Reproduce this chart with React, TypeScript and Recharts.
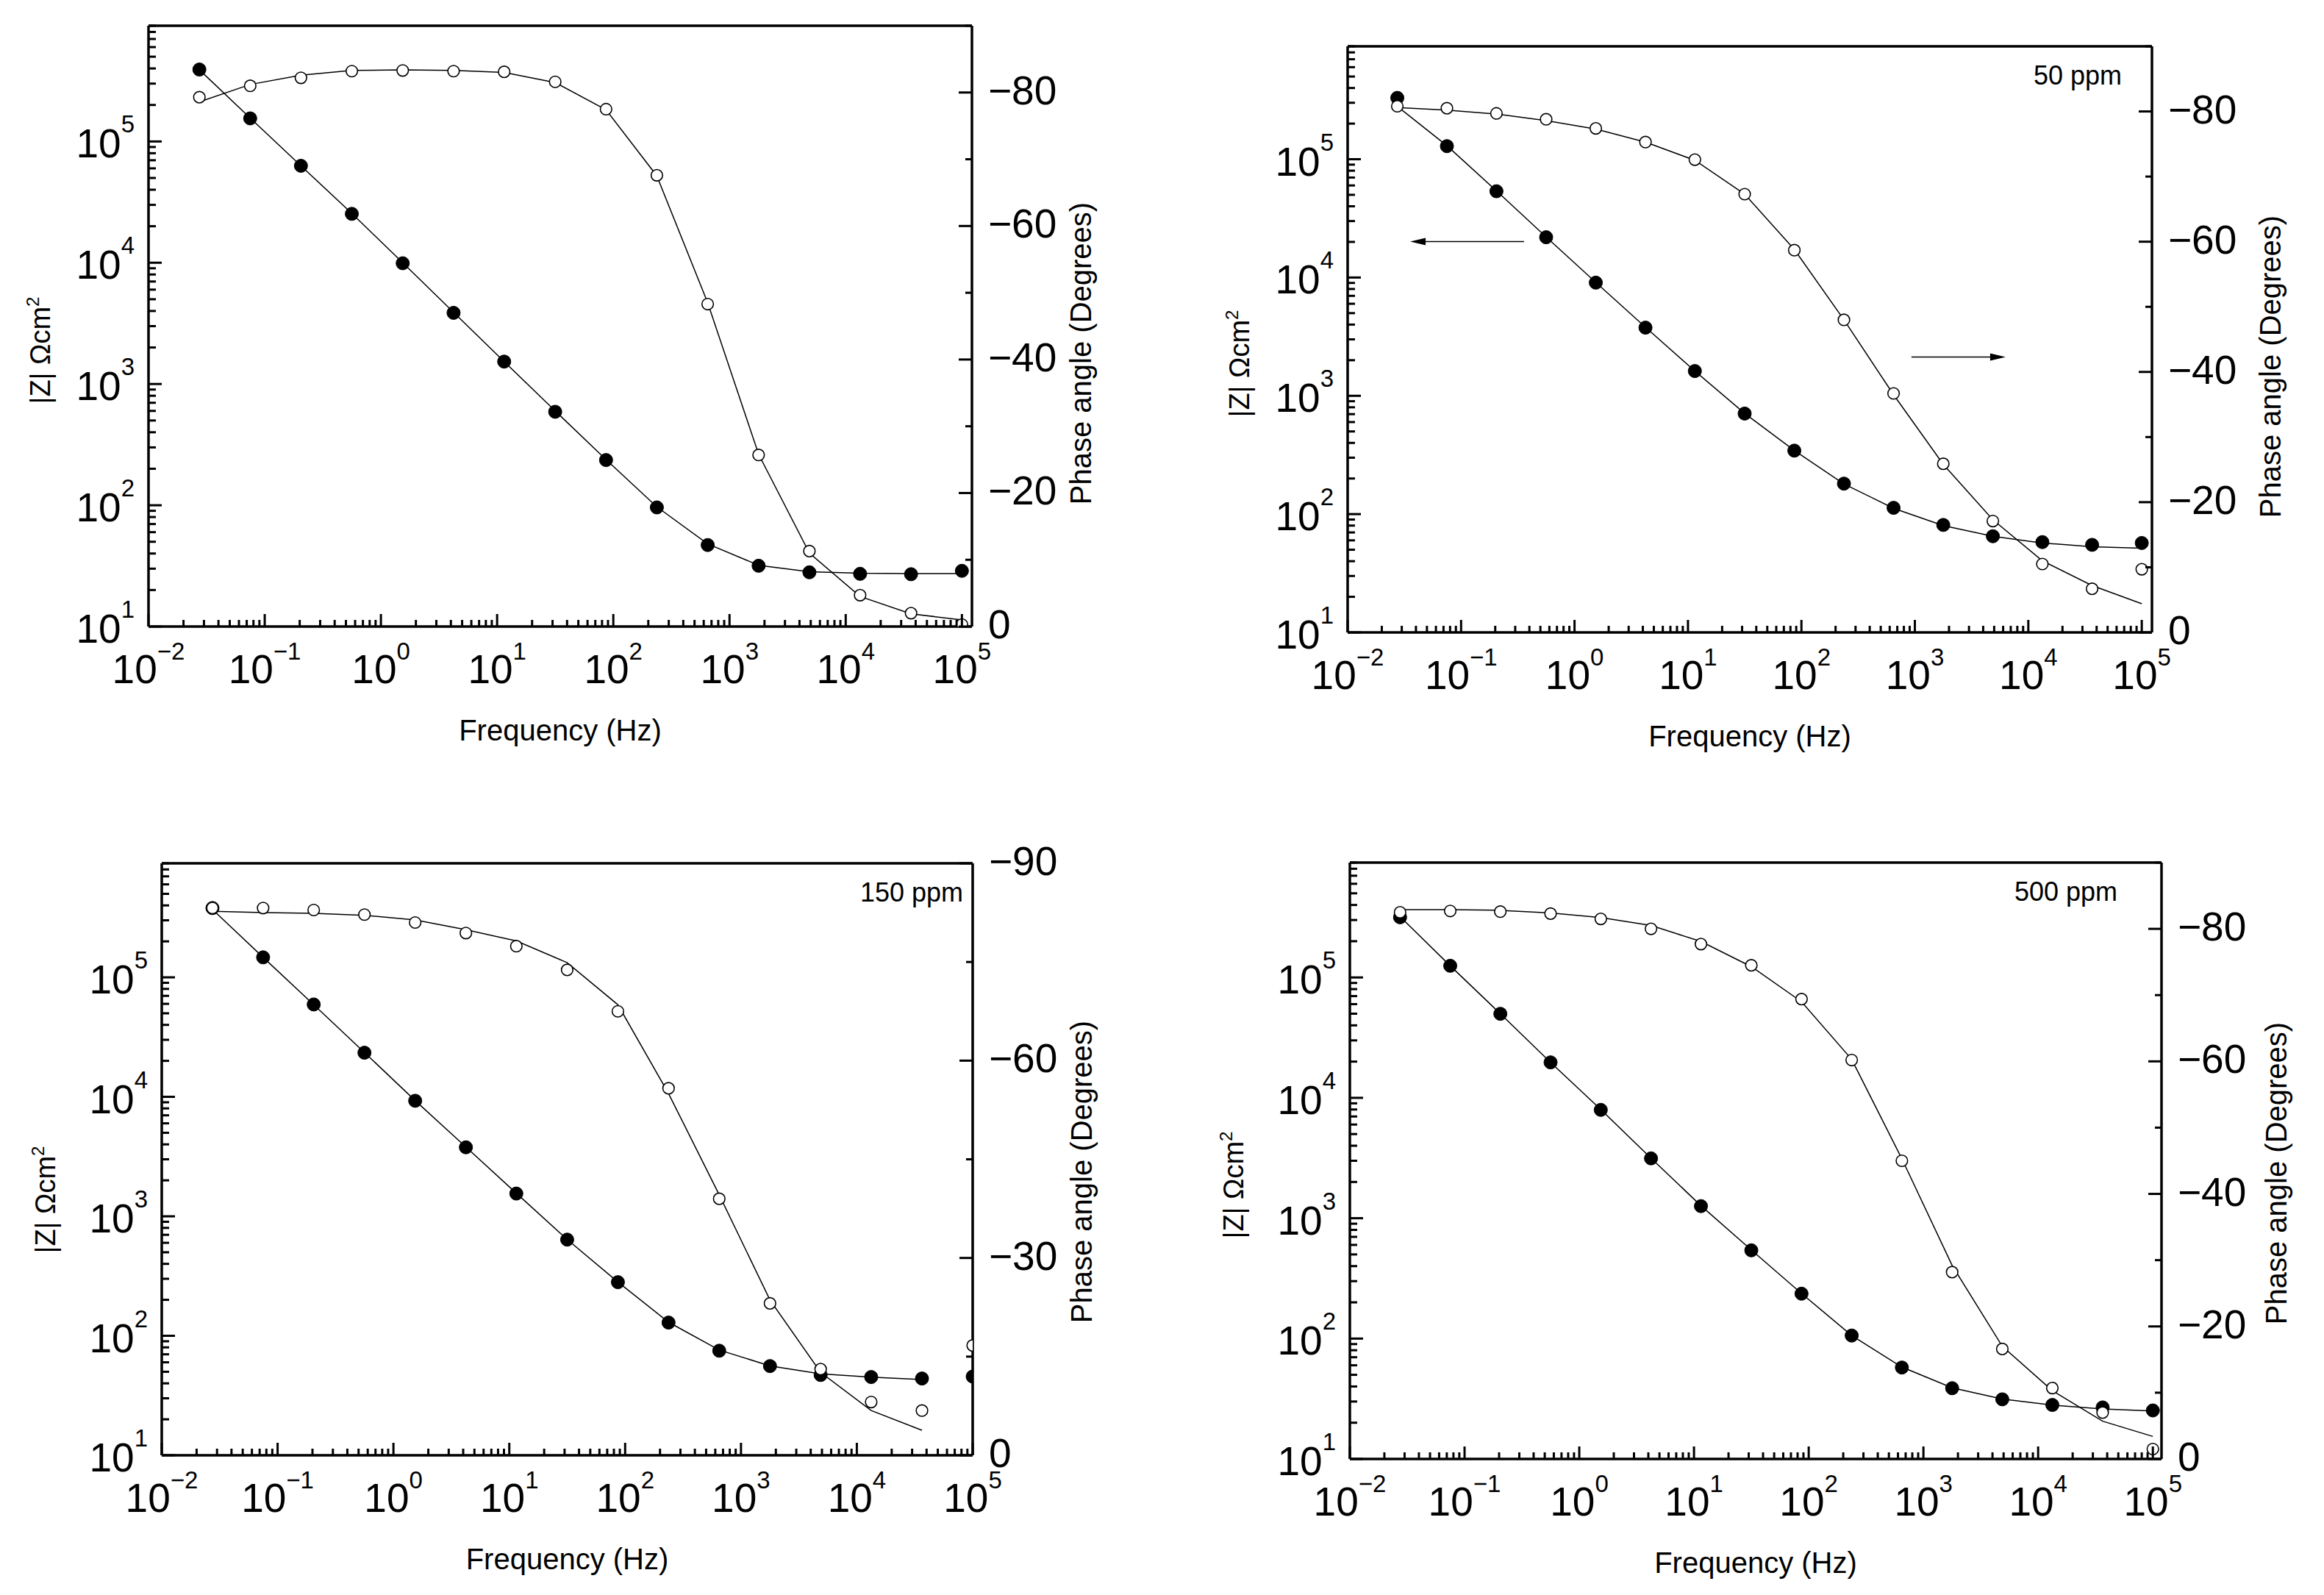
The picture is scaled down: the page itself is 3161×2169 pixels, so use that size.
import React from 'react';
import { ComposedChart, Line, XAxis, YAxis, ReferenceLine } from 'recharts';

// measurement frequencies (Hz), same for every panel
const freq = [0.0274, 0.075, 0.205, 0.562, 1.54, 4.22, 11.5, 31.6, 86.6, 237, 649, 1780, 4870, 13300, 36500, 100000];

// blank
const zBlank = [392000, 155000, 63000, 25300, 9900, 3860, 1530, 590, 236, 96, 47, 31.7, 28, 27.2, 27, 28.8];
const phaseBlank = [-79.3, -81.0, -82.2, -83.2, -83.3, -83.2, -83.1, -81.6, -77.5, -67.6, -48.3, -25.7, -11.3, -4.7, -2.0, -0.3];
const zFitBlank = [390000, 156000, 63000, 25500, 10000, 3900, 1530, 600, 238, 97, 48, 32, 28.3, 27.5, 27.3, 27.3];
const phaseFitBlank = [-78.6, -81.2, -82.6, -83.3, -83.4, -83.3, -83.0, -81.5, -77.4, -67.5, -48.5, -25.8, -11.0, -4.5, -1.9, -1.0];

// 50 ppm
const z50 = [330000, 129000, 53600, 21900, 9050, 3770, 1620, 708, 344, 181, 113, 81, 65, 58, 55, 57];
const phase50 = [-80.8, -80.5, -79.7, -78.8, -77.4, -75.3, -72.6, -67.3, -58.7, -48.0, -36.7, -25.9, -17.1, -10.5, -6.7, -9.7];
const zFit50 = [280000, 130000, 54000, 22000, 9100, 3800, 1620, 710, 345, 180, 112, 80, 65, 57, 53, 51.5];
const phaseFit50 = [-80.6, -80.2, -79.6, -78.6, -77.3, -75.3, -72.5, -67.3, -58.8, -48.0, -36.5, -25.8, -17.3, -11.0, -7.2, -4.4];

// 150 ppm
const z150 = [380000, 147000, 59300, 23400, 9270, 3780, 1550, 638, 281, 129, 75, 55.8, 47, 45.2, 43.9, 45.6];
const phase150 = [-83.2, -83.2, -82.9, -82.2, -81.0, -79.4, -77.4, -73.8, -67.5, -55.8, -39.0, -23.1, -13.1, -8.1, -6.8, -16.7];
const zFit150 = [370000, 147000, 59000, 23500, 9300, 3800, 1560, 640, 282, 130, 76, 56, 48, 45, 43, null];
const phaseFit150 = [-82.7, -82.5, -82.4, -82.1, -81.4, -79.9, -78.2, -74.9, -68.5, -55.0, -39.6, -23.6, -12.6, -6.8, -3.8, null];

// 500 ppm
const z500 = [316000, 125000, 49900, 19700, 7940, 3140, 1260, 541, 236, 106, 57.5, 38.7, 31.3, 28.1, 26.8, 25.3];
const phase500 = [-82.5, -82.7, -82.6, -82.3, -81.5, -80.0, -77.7, -74.5, -69.4, -60.2, -45.0, -28.2, -16.6, -10.7, -7.0, -1.5];
const zFit500 = [320000, 125000, 50000, 19700, 8000, 3150, 1270, 545, 237, 106, 58, 39, 31.5, 28, 26, 25];
const phaseFit500 = [-82.9, -82.9, -82.8, -82.4, -81.7, -80.5, -78.1, -74.3, -69.0, -60.3, -45.3, -29.2, -17.0, -10.3, -5.7, -3.4];

// arrows in the 50 ppm panel
const arrowToZ = [{ f: 0.359, v: 20100 }, { f: 0.0356, v: 20100 }];
const arrowToPhase = [{ f: 933, v: -42.3 }, { f: 6310, v: -42.3 }];

// axis ticks
const mantissas = [1, 2, 3, 4, 5, 6, 7, 8, 9];
const zDecades = [10, 100, 1000, 10000, 100000];
const fDecades = [0.01, 0.1, 1, 10, 100, 1000, 10000];
const zTicks = zDecades.flatMap((d) => mantissas.map((m) => +(m * d).toPrecision(3)));
const fTicks = [...fDecades.flatMap((d) => mantissas.map((m) => +(m * d).toPrecision(3))), 100000];
const phaseTicks20 = [0, -10, -20, -30, -40, -50, -60, -70, -80, -90];
const phaseTicks30 = [0, -15, -30, -45, -60, -75, -90];

const FONT = 'Liberation Sans, Arial, sans-serif';
const LEFT = 200;
const RIGHT = 240;
const TOP = 40;
const BOTTOM = 200;
const Z_MAX = 900000;
const axisStyle = { stroke: '#000', strokeWidth: 3.5 };

const isDecade = (v: number) => {
  const l = Math.log10(v);
  return Math.abs(l - Math.round(l)) < 1e-6;
};
const expText = (v: number) => {
  const e = Math.round(Math.log10(v));
  return e < 0 ? '\u2212' + Math.abs(e) : String(e);
};

const XTick = (props: any) => {
  const { x, y, payload } = props;
  const major = isDecade(payload.value);
  return (
    <g>
      <line x1={x} x2={x} y1={y} y2={y - (major ? 17 : 9)} stroke="#000" strokeWidth={3} />
      {major && (
        <text x={x} y={y + 77} textAnchor="middle" fontSize={55} fontFamily={FONT} fill="#000">
          10
          <tspan dy={-32} fontSize={33}>{expText(payload.value)}</tspan>
        </text>
      )}
    </g>
  );
};

const ZTick = (props: any) => {
  const { x, y, payload } = props;
  const major = isDecade(payload.value);
  return (
    <g>
      <line x1={x} x2={x + (major ? 18 : 10)} y1={y} y2={y} stroke="#000" strokeWidth={3} />
      {major && (
        <text x={x - 19} y={y + 22} textAnchor="end" fontSize={55} fontFamily={FONT} fill="#000">
          10
          <tspan dy={-34} fontSize={33}>{expText(payload.value)}</tspan>
        </text>
      )}
    </g>
  );
};

const makePhaseTick = (step: number) => (props: any) => {
  const { x, y, payload } = props;
  const v = payload.value;
  const major = v % step === 0;
  return (
    <g>
      <line x1={x} x2={x - (major ? 18 : 9)} y1={y} y2={y} stroke="#000" strokeWidth={3} />
      {major && (
        <text x={x + 22} y={y + 16} textAnchor="start" fontSize={55} fontFamily={FONT} fill="#000">
          {v === 0 ? '0' : '\u2212' + Math.abs(v)}
        </text>
      )}
    </g>
  );
};

const Arrow = (props: any) => {
  const { x1, y1, x2, y2 } = props;
  const dir = Math.sign(x2 - x1);
  return (
    <g>
      <line x1={x1} y1={y1} x2={x2 - dir * 16} y2={y2} stroke="#000" strokeWidth={1.5} />
      <polygon points={`${x2},${y2} ${x2 - dir * 21},${y2 - 5} ${x2 - dir * 21},${y2 + 5}`} fill="#000" />
    </g>
  );
};

const panels = [
  { key: 'blank', x: 202, y: 35, w: 1120, h: 817, xMax: 122000, step: 20, zDx: 134, zDy: 33, pDx: 162, pDy: 37, note: '', z: zBlank, p: phaseBlank, zf: zFitBlank, pf: phaseFitBlank },
  { key: '50', x: 1833, y: 63, w: 1094, h: 797, xMax: 123000, step: 20, zDx: 134, zDy: 33, pDx: 175, pDy: 37, note: '50 ppm', noteDx: 41, z: z50, p: phase50, zf: zFit50, pf: phaseFit50 },
  { key: '150', x: 220, y: 1174, w: 1103, h: 805, xMax: 100000, step: 30, zDx: 145, zDy: 55, pDx: 162, pDy: 17, note: '150 ppm', noteDx: 13, z: z150, p: phase150, zf: zFit150, pf: phaseFit150 },
  { key: '500', x: 1836, y: 1173, w: 1104, h: 811, xMax: 119000, step: 20, zDx: 145, zDy: 33, pDx: 170, pDy: 17, note: '500 ppm', noteDx: 60, z: z500, p: phase500, zf: zFit500, pf: phaseFit500 },
];

function Panel({ cfg }: { cfg: any }) {
  const data = freq.map((f, i) => ({ f, z: cfg.z[i], p: cfg.p[i], zf: cfg.zf[i], pf: cfg.pf[i] }));
  const W = cfg.w + LEFT + RIGHT;
  const H = cfg.h + TOP + BOTTOM;
  const PhaseTick = makePhaseTick(cfg.step);
  return (
    <div style={{ position: 'absolute', left: cfg.x - LEFT, top: cfg.y - TOP }}>
      <ComposedChart width={W} height={H} data={data} margin={{ top: TOP, right: 0, bottom: 0, left: 0 }}>
        <XAxis
          xAxisId="b"
          dataKey="f"
          type="number"
          scale="log"
          domain={[0.01, cfg.xMax]}
          allowDataOverflow
          ticks={fTicks}
          interval={0}
          tick={XTick}
          tickLine={false}
          tickSize={0}
          tickMargin={0}
          axisLine={axisStyle}
          height={BOTTOM}
          label={({ viewBox }: any) => (
            <text
              x={viewBox.x + viewBox.width / 2}
              y={viewBox.y + 155}
              textAnchor="middle"
              fontSize={40}
              fontFamily={FONT}
              fill="#000"
            >
              Frequency (Hz)
            </text>
          )}
        />
        <YAxis
          yAxisId="z"
          type="number"
          scale="log"
          domain={[10, Z_MAX]}
          allowDataOverflow
          ticks={zTicks}
          interval={0}
          tick={ZTick}
          tickLine={false}
          tickSize={0}
          tickMargin={0}
          axisLine={axisStyle}
          width={LEFT}
          label={({ viewBox }: any) => {
            const cx = viewBox.x + viewBox.width - cfg.zDx;
            const cy = viewBox.y + viewBox.height / 2 + cfg.zDy;
            return (
              <text x={cx} y={cy} transform={`rotate(-90, ${cx}, ${cy})`} textAnchor="middle" fontSize={38} fontFamily={FONT} fill="#000">
                |Z| Ωcm
                <tspan dy={-15} fontSize={24}>2</tspan>
              </text>
            );
          }}
        />
        <YAxis
          yAxisId="p"
          orientation="right"
          type="number"
          domain={[-90, 0]}
          reversed
          allowDataOverflow
          ticks={cfg.step === 30 ? phaseTicks30 : phaseTicks20}
          interval={0}
          tick={PhaseTick}
          tickLine={false}
          tickSize={0}
          tickMargin={0}
          axisLine={axisStyle}
          width={RIGHT}
          label={({ viewBox }: any) => {
            const cx = viewBox.x + cfg.pDx;
            const cy = viewBox.y + viewBox.height / 2 + cfg.pDy;
            return (
              <text x={cx} y={cy} transform={`rotate(-90, ${cx}, ${cy})`} textAnchor="middle" fontSize={40} fontFamily={FONT} fill="#000">
                Phase angle (Degrees)
              </text>
            );
          }}
        />
        {/* top edge of the frame */}
        <ReferenceLine xAxisId="b" yAxisId="z" y={Z_MAX} stroke="#000" strokeWidth={3.5} ifOverflow="visible" />
        <Line xAxisId="b" yAxisId="z" dataKey="zf" type="linear" stroke="#000" strokeWidth={1.5} dot={false} activeDot={false} isAnimationActive={false} />
        <Line xAxisId="b" yAxisId="p" dataKey="pf" type="linear" stroke="#000" strokeWidth={1.5} dot={false} activeDot={false} isAnimationActive={false} />
        <Line
          xAxisId="b"
          yAxisId="z"
          dataKey="z"
          stroke="none"
          dot={{ r: 9, fill: '#000', stroke: '#000', strokeWidth: 1 }}
          activeDot={false}
          isAnimationActive={false}
        />
        <Line
          xAxisId="b"
          yAxisId="p"
          dataKey="p"
          stroke="none"
          dot={{ r: 7.8, fill: '#fff', stroke: '#000', strokeWidth: 1.6 }}
          activeDot={false}
          isAnimationActive={false}
        />
        {cfg.key === '50' && (
          <ReferenceLine
            xAxisId="b"
            yAxisId="z"
            segment={arrowToZ.map((a) => ({ x: a.f, y: a.v }))}
            shape={Arrow}
          />
        )}
        {cfg.key === '50' && (
          <ReferenceLine
            xAxisId="b"
            yAxisId="p"
            segment={arrowToPhase.map((a) => ({ x: a.f, y: a.v }))}
            shape={Arrow}
          />
        )}
      </ComposedChart>
      {cfg.note && (
        <div
          style={{
            position: 'absolute',
            right: RIGHT + cfg.noteDx,
            top: TOP + 20,
            fontFamily: FONT,
            fontSize: 36,
            lineHeight: '40px',
            color: '#000',
            whiteSpace: 'nowrap',
          }}
        >
          {cfg.note}
        </div>
      )}
    </div>
  );
}

export default function App() {
  return (
    <div style={{ position: 'absolute', left: 0, top: 0, width: 3161, height: 2169, background: '#fff', overflow: 'hidden' }}>
      {panels.map((cfg) => (
        <Panel key={cfg.key} cfg={cfg} />
      ))}
    </div>
  );
}
